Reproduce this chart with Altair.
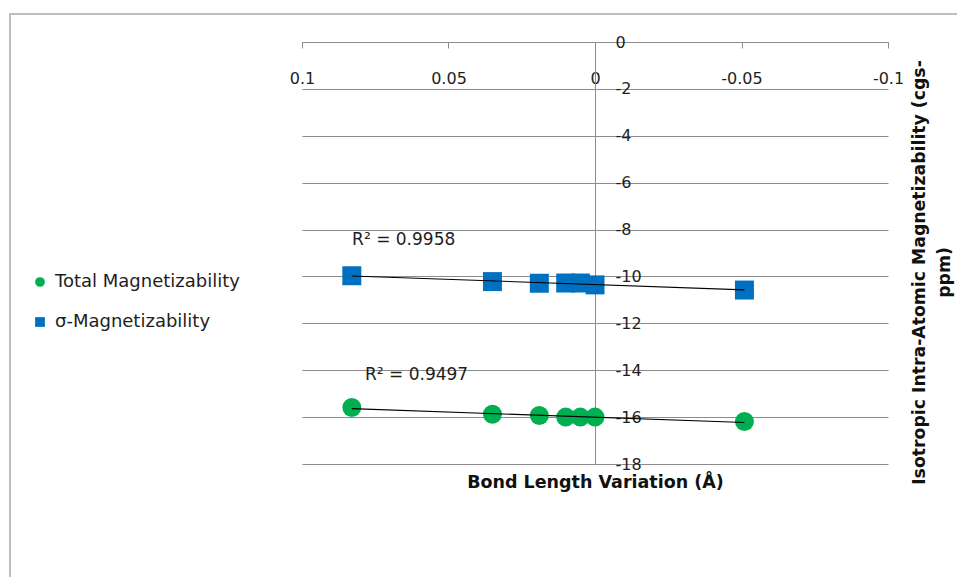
import altair as alt
import pandas as pd

# ---- data ----
bond_variation = [0.083, 0.035, 0.019, 0.010, 0.005, 0.0, -0.051]
total_mag = [-15.59, -15.88, -15.93, -16.0, -16.0, -16.0, -16.19]
sigma_mag = [-9.97, -10.22, -10.29, -10.28, -10.28, -10.36, -10.58]

series_names = ["Total Magnetizability", "σ-Magnetizability"]
series_colors = ["#00B050", "#0070C0"]
series_shapes = ["circle", "square"]

r2_labels = ["R² = 0.9497", "R² = 0.9958"]
r2_x = [0.0785, 0.0829]
r2_y = [-14.2, -8.45]

x_ticks = [0.1, 0.05, 0, -0.05, -0.1]
y_ticks = [0, -2, -4, -6, -8, -10, -12, -14, -16, -18]

# ---- tables ----
rows = []
for xv, yv in zip(bond_variation, total_mag):
    rows.append({"x": xv, "y": yv, "series": series_names[0]})
for xv, yv in zip(bond_variation, sigma_mag):
    rows.append({"x": xv, "y": yv, "series": series_names[1]})
df = pd.DataFrame(rows)
df_r2 = pd.DataFrame({"x": r2_x, "y": r2_y, "label": r2_labels})

W, H = 586, 422
GRID = "#8C8C8C"
TXT = "#1E1E1E"

x_enc = alt.X(
    "x:Q",
    scale=alt.Scale(domain=[-0.1, 0.1], reverse=True, nice=False, zero=False),
    axis=alt.Axis(
        orient="bottom", offset=-H, values=x_ticks, labelExpr="'' + datum.value",
        grid=False, domainColor=GRID, tickColor=GRID, tickSize=6,
        labelPadding=22, labelFontSize=16, labelColor=TXT, labelFlush=False,
        labelOverlap=False,
        title="Bond Length Variation (Å)", titleY=440, titleBaseline="middle",
        titleFontSize=17.5, titleFontWeight="bold", titleColor="#111111",
    ),
)
y_enc = alt.Y(
    "y:Q",
    scale=alt.Scale(domain=[-18, 0], nice=False, zero=False),
    axis=alt.Axis(
        orient="right", offset=-(W / 2), values=y_ticks, labelExpr="'' + datum.value",
        grid=True, gridColor=GRID, domainColor=GRID, ticks=False,
        labelPadding=20, labelFontSize=16, labelColor=TXT, labelFlush=False,
        labelOverlap=False, labelAlign="left",
        title=["Isotropic Intra-Atomic Magnetizability (cgs-", "ppm)"],
        titleAngle=270, titleX=324, titleY=230, titleAlign="center",
        titleBaseline="middle", titleLineHeight=25,
        titleFontSize=17.3, titleFontWeight="bold", titleColor="#111111",
    ),
)

color_scale = alt.Scale(domain=series_names, range=series_colors)
shape_scale = alt.Scale(domain=series_names, range=series_shapes)

legend = alt.Legend(
    title=None, orient="none", legendX=-271, legendY=231,
    labelFontSize=18, labelColor=TXT, symbolSize=95, labelOffset=6,
    rowPadding=22, padding=0, symbolStrokeWidth=0, labelLimit=400,
)

base = alt.Chart(df)

points = base.mark_point(filled=True, opacity=1, size=360).encode(
    x=x_enc,
    y=y_enc,
    color=alt.Color("series:N", scale=color_scale, legend=legend),
    shape=alt.Shape("series:N", scale=shape_scale, legend=legend),
)

trend = base.transform_regression(
    "x", "y", groupby=["series"], method="linear"
).mark_line(color="#000000", strokeWidth=1.1).encode(
    x="x:Q", y="y:Q", detail="series:N"
)

r2_text = alt.Chart(df_r2).mark_text(
    align="left", baseline="middle", fontSize=17, color=TXT
).encode(x="x:Q", y="y:Q", text="label:N")

border = alt.Chart(alt.Data(values=[{}])).mark_rect(
    fillOpacity=0, stroke="#BFBFBF", strokeWidth=2
).encode(
    x=alt.value(-292), x2=alt.value(700), y=alt.value(-28), y2=alt.value(600)
)

chart = alt.layer(border, points, trend, r2_text).properties(
    width=W, height=H,
    autosize="none",
    padding={"left": 294, "top": 34, "right": 69, "bottom": 113},
    background="white",
).configure(font="DejaVu Sans").configure_view(stroke="transparent")

chart.save("out.html", embed_options={"renderer": "svg", "actions": False})
